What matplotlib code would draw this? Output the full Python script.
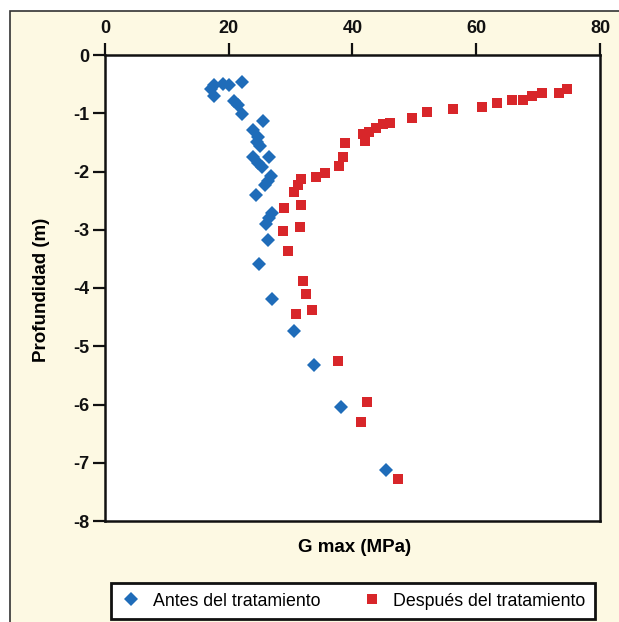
import matplotlib
matplotlib.use("Agg")
import matplotlib.pyplot as plt
from matplotlib.patches import Rectangle

# G max (MPa) vs depth (m), before treatment
antes_g = [22.2, 17.6, 19.1, 20.0, 17.2, 17.6, 20.8, 21.5, 22.2, 25.6,
           24.0, 24.7, 24.5, 25.0, 24.0, 26.5, 24.7, 25.3, 26.9, 26.3,
           25.8, 24.4, 27.0, 26.5, 26.1, 26.3, 24.9, 27.0, 30.5, 33.7,
           38.2, 45.4]
antes_z = [-0.46, -0.52, -0.49, -0.52, -0.59, -0.70, -0.79, -0.86, -1.02, -1.14,
           -1.29, -1.41, -1.50, -1.56, -1.75, -1.75, -1.85, -1.92, -2.08, -2.16,
           -2.23, -2.41, -2.72, -2.80, -2.90, -3.18, -3.58, -4.19, -4.74, -5.32,
           -6.05, -7.12]

# after treatment
despues_g = [74.7, 73.4, 70.6, 69.0, 67.6, 65.8, 63.4, 60.9, 56.3, 52.1,
             49.6, 46.1, 45.0, 43.8, 42.7, 41.7, 42.0, 38.8, 38.4, 37.8,
             35.6, 34.1, 31.7, 31.2, 30.5, 29.0, 31.7, 31.5, 28.7, 29.6,
             32.0, 32.5, 33.5, 30.8, 37.7, 42.4, 41.3, 47.4]
despues_z = [-0.58, -0.65, -0.65, -0.71, -0.77, -0.78, -0.83, -0.89, -0.93, -0.97,
             -1.08, -1.16, -1.18, -1.25, -1.32, -1.35, -1.48, -1.51, -1.75, -1.91,
             -2.02, -2.09, -2.13, -2.24, -2.36, -2.62, -2.58, -2.95, -3.03, -3.37,
             -3.88, -4.11, -4.38, -4.45, -5.25, -5.96, -6.30, -7.28]

xticks = [0, 20, 40, 60, 80]
yticks = [0, -1, -2, -3, -4, -5, -6, -7, -8]

font = "Liberation Sans"
cream = "#fdf9e3"
blue = "#1f6cb9"
red = "#d8262a"

fig = plt.figure(figsize=(6.19, 6.22), dpi=100, facecolor="white")
bg = Rectangle((10/619, -0.1), 1.2, 1 - 11/622 + 0.1,
               transform=fig.transFigure, facecolor=cream,
               edgecolor="#333333", lw=1.2, zorder=-10)
fig.patches.append(bg)

ax = fig.add_axes([105/619, 1 - 521/622, 495/619, 466/622])
ax.set_zorder(2)
ax.set_facecolor("white")

ax.plot(antes_g, antes_z, "D", color=blue, markersize=7, markeredgewidth=0,
        label="Antes del tratamiento", clip_on=False)
ax.plot(despues_g, despues_z, "s", color=red, markersize=7, markeredgewidth=0,
        label="Después del tratamiento", clip_on=False)

ax.set_xlim(0, 80)
ax.set_ylim(-8, 0)
ax.xaxis.tick_top()
ax.set_xticks(xticks)
ax.set_yticks(yticks)
ax.set_xticklabels([str(v) for v in xticks], fontfamily=font, fontweight="bold", fontsize=13)
ax.set_yticklabels([str(v) for v in yticks], fontfamily=font, fontweight="bold", fontsize=13)
ax.tick_params(axis="x", direction="out", length=9, width=1.6, pad=4, colors="#111111")
ax.tick_params(axis="y", direction="out", length=9, width=1.6, pad=2, colors="#111111")
for s in ax.spines.values():
    s.set_linewidth(1.8)
    s.set_color("#111111")

fig.text(355/619, 1 - 548/622, "G max (MPa)", ha="center", va="center",
         fontfamily=font, fontweight="bold", fontsize=13.5)
fig.text(42/619, 1 - 290/622, "Profundidad (m)", ha="center", va="center",
         rotation=90, fontfamily=font, fontweight="bold", fontsize=13.5)

leg = fig.legend(loc="center", bbox_to_anchor=(353/619, 1 - 601/622), ncol=2,
                 frameon=True, fancybox=False, edgecolor="#111111",
                 framealpha=1, columnspacing=2.3, handletextpad=0.6,
                 handlelength=1.2, borderpad=0.55,
                 prop={"family": font, "size": 12.8})
leg.get_frame().set_linewidth(2)
leg.set_zorder(3)

fig.savefig("out.png", dpi=100, facecolor=fig.get_facecolor())
